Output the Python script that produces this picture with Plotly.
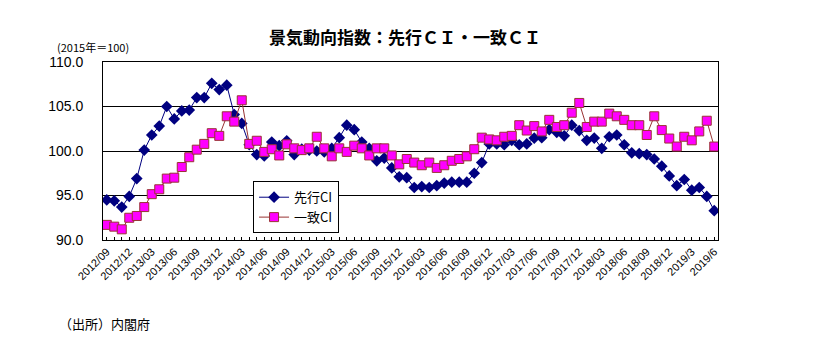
import plotly.graph_objects as go

months = []
for y in range(2012, 2020):
    for m in range(1, 13):
        if (y == 2012 and m < 9) or (y == 2019 and m > 6):
            continue
        months.append(f"{y}/{m:02d}")

tick_labels = {
    "2012/09": "2012/09", "2012/12": "2012/12", "2013/03": "2013/03", "2013/06": "2013/06",
    "2013/09": "2013/09", "2013/12": "2013/12", "2014/03": "2014/03", "2014/06": "2014/06",
    "2014/09": "2014/09", "2014/12": "2014/12", "2015/03": "2015/03", "2015/06": "2015/06",
    "2015/09": "2015/09", "2015/12": "2015/12", "2016/03": "2016/03", "2016/06": "2016/06",
    "2016/09": "2016/09", "2016/12": "2016/12", "2017/03": "2017/03", "2017/06": "2017/06",
    "2017/09": "2017/09", "2017/12": "2017/12", "2018/03": "2018/03", "2018/06": "2018/06",
    "2018/09": "2018/09", "2018/12": "2018/12", "2019/03": "2019/3", "2019/06": "2019/6",
}

leading_ci = [
    94.5, 94.4, 93.7, 94.9, 96.9, 100.1, 101.8, 102.8, 105.0, 103.6,
    104.5, 104.6, 106.0, 106.0, 107.6, 106.9, 107.4, 104.1, 103.1, 100.7,
    99.6, 99.45, 101.0, 100.6, 101.15, 99.6, 100.2, 100.1,
    100.0, 99.9, 100.3, 101.5, 102.9, 102.4, 101.0, 100.3, 98.9, 99.2,
    98.1, 97.1, 97.0, 95.9, 96.0, 95.9, 96.1, 96.4, 96.5, 96.5,
    96.5, 97.5, 98.7, 100.8, 100.8, 100.7, 101.2,
    100.7, 100.8, 101.45, 101.5, 102.4, 102.1, 101.7, 102.9, 102.3, 101.2,
    101.45, 100.3, 101.6, 101.8, 100.7, 99.8, 99.7, 99.6, 99.1, 98.3,
    97.2, 96.1, 96.8, 95.6, 95.9, 94.9, 93.3,
]

coincident_ci = [
    91.7, 91.5, 91.2, 92.5, 92.7, 93.7, 95.15, 95.7, 96.9, 97.0,
    98.2, 99.3, 100.15, 100.8, 102.0, 101.7, 103.9, 103.3, 105.7, 100.8,
    101.15, 99.9, 100.2, 99.5, 100.75, 100.3, 100.1,
    100.3, 101.6, 100.3, 99.4, 100.3, 99.9, 100.6, 100.3, 99.5, 100.3,
    100.3, 99.5, 98.5, 99.1, 98.7, 98.4, 98.7, 98.1, 98.4, 98.9,
    99.1, 99.4, 100.2, 101.5, 101.3, 101.2, 101.6, 101.7,
    102.9, 102.3, 102.8, 102.2, 103.5, 102.7, 102.9, 104.3, 105.4, 102.7,
    103.3, 103.3, 104.2, 103.9, 103.5, 102.9, 102.9, 101.8, 103.9, 102.35,
    101.4, 100.5, 101.6, 101.2, 102.2, 103.4, 100.5,
]

y_ticks = [90, 95, 100, 105, 110]

FONT = "Liberation Sans, Noto Sans CJK JP, sans-serif"
CJK = "Noto Sans CJK JP, sans-serif"

fig = go.Figure()
fig.add_trace(go.Scatter(
    x=months, y=leading_ci, name="先行CI", mode="lines+markers",
    line=dict(color="#000080", width=1),
    marker=dict(symbol="diamond", size=9, color="#000080"),
))
fig.add_trace(go.Scatter(
    x=months, y=coincident_ci, name="一致CI", mode="lines+markers",
    line=dict(color="#993333", width=1),
    marker=dict(symbol="square", size=9, color="#FF00FF",
                line=dict(color="#993333", width=1)),
))

fig.update_layout(
    width=818, height=344,
    margin=dict(l=103, r=100, t=62, b=104),
    paper_bgcolor="white", plot_bgcolor="white",
    showlegend=True,
    legend=dict(
        x=0.244, y=0.33, xanchor="left", yanchor="top",
        bgcolor="white", bordercolor="black", borderwidth=1,
        font=dict(family=CJK, size=13, color="black"),
        tracegroupgap=0, itemwidth=30,
    ),
    font=dict(family=FONT, color="black"),
)

fig.update_xaxes(
    type="category",
    range=[-0.5, len(months) - 0.5],
    tickmode="array",
    tickvals=months,
    ticktext=[tick_labels.get(m, "") for m in months],
    tickangle=-45,
    tickfont=dict(family=FONT, size=11, color="black"),
    ticks="inside", ticklen=3, tickcolor="black", tickwidth=1,
    showline=True, linecolor="black", linewidth=1, mirror=True,
    showgrid=False, zeroline=False,
)
fig.update_yaxes(
    range=[90, 110],
    tickmode="array", tickvals=y_ticks,
    ticktext=[f"{v:.1f}" for v in y_ticks],
    tickfont=dict(family=FONT, size=14, color="black"),
    showline=True, linecolor="black", linewidth=1, mirror=True,
    showgrid=True, gridcolor="black", gridwidth=1,
    zeroline=False, ticks="", ticklabelstandoff=16,
)

fig.add_annotation(
    text="<b>景気動向指数：先行ＣＩ・一致ＣＩ</b>",
    xref="paper", yref="paper", x=(405 - 103) / 615, y=1 + (62 - 36) / 178,
    xanchor="center", yanchor="middle", showarrow=False,
    font=dict(family=CJK, size=17, color="black"),
)
fig.add_annotation(
    text="(2015年＝100)",
    xref="paper", yref="paper", x=(55 - 103) / 615, y=1 + (62 - 47) / 178,
    xanchor="left", yanchor="middle", showarrow=False,
    font=dict(family=CJK, size=11, color="black"),
)
fig.add_annotation(
    text="（出所）内閣府",
    xref="paper", yref="paper", x=(57 - 103) / 615, y=-(323 - 240) / 178,
    xanchor="left", yanchor="middle", showarrow=False,
    font=dict(family=CJK, size=13, color="black"),
)

fig.write_html("out.html")
